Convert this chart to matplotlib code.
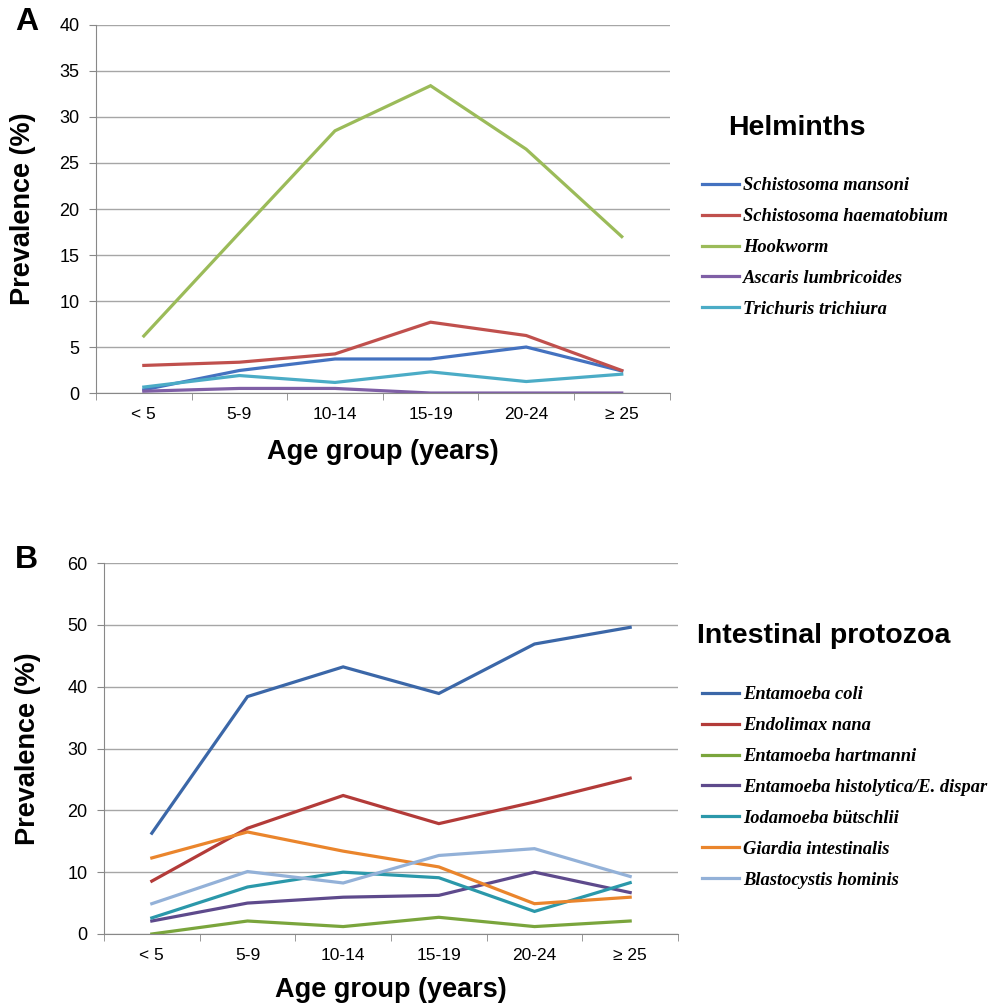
import numpy as np
import matplotlib
matplotlib.use("Agg")
import matplotlib.pyplot as plt
from matplotlib.ticker import FixedLocator

AGE_GROUPS = ["< 5", "5-9", "10-14", "15-19", "20-24", "\u2265 25"]

# Panel A: helminths (%)
HELM_NAMES = ["Schistosoma mansoni", "Schistosoma haematobium", "Hookworm",
              "Ascaris lumbricoides", "Trichuris trichiura"]
s_mansoni = [0.35, 2.45, 3.7, 3.7, 5.0, 2.4]
s_haematobium = [3.0, 3.35, 4.25, 7.7, 6.25, 2.45]
hookworm = [6.2, 17.4, 28.5, 33.4, 26.5, 17.0]
ascaris = [0.2, 0.5, 0.5, 0.0, 0.0, 0.0]
trichuris = [0.65, 1.9, 1.15, 2.3, 1.25, 2.05]
HELM_COLORS = ["#4472C0", "#C0504D", "#9BBB59", "#7F5FA6", "#4BACC6"]

# Panel B: intestinal protozoa (%)
PROTO_NAMES = ["Entamoeba coli", "Endolimax nana", "Entamoeba hartmanni",
               "Entamoeba histolytica/E. dispar", "Iodamoeba b\u00fctschlii",
               "Giardia intestinalis", "Blastocystis hominis"]
e_coli = [16.3, 38.4, 43.2, 38.9, 46.9, 49.6]
e_nana = [8.55, 17.1, 22.4, 17.85, 21.35, 25.2]
e_hartmanni = [0.0, 2.1, 1.2, 2.7, 1.2, 2.1]
e_histolytica = [2.1, 5.0, 5.95, 6.25, 10.0, 6.7]
i_butschlii = [2.6, 7.6, 10.0, 9.1, 3.65, 8.3]
giardia = [12.3, 16.5, 13.4, 10.85, 4.9, 5.95]
blastocystis = [4.9, 10.1, 8.25, 12.7, 13.8, 9.3]
PROTO_COLORS = ["#3B67A8", "#B33B39", "#7AA53C", "#5E4A8C", "#2B98AA", "#EA852C", "#93B1D8"]

SANS = "Liberation Sans"
SERIF = "Liberation Serif"


def style_axes(ax, ymax, ystep, ylab_x, xlab_y):
    x = np.arange(len(AGE_GROUPS))
    ax.set_xlim(-0.5, len(AGE_GROUPS) - 0.5)
    ax.set_ylim(0, ymax)
    ax.set_xticks(x)
    ax.set_xticklabels(AGE_GROUPS, fontsize=12.5, family=SANS)
    ax.xaxis.set_minor_locator(FixedLocator(np.arange(-0.5, len(AGE_GROUPS), 1.0)))
    ax.tick_params(axis="x", which="major", length=0, pad=10)
    ax.tick_params(axis="x", which="minor", length=5, color="#888888")
    ax.set_yticks(np.arange(0, ymax + 0.1, ystep))
    ax.tick_params(axis="y", length=5, color="#888888", pad=7, labelsize=13)
    for lab in ax.get_yticklabels():
        lab.set_family(SANS)
    ax.grid(axis="y", color="#A6A6A6", linewidth=1)
    ax.set_axisbelow(True)
    for side in ("top", "right"):
        ax.spines[side].set_visible(False)
    for side in ("left", "bottom"):
        ax.spines[side].set_color("#888888")
    ax.set_ylabel("Prevalence (%)", fontsize=19.5, fontweight="bold", family=SANS)
    ax.set_xlabel("Age group (years)", fontsize=19.5, fontweight="bold", family=SANS)
    ax.yaxis.set_label_coords(ylab_x, 0.5)
    ax.xaxis.set_label_coords(0.5, xlab_y)


fig = plt.figure(figsize=(9.94, 10.07), dpi=100)
axA = fig.add_axes([0.0966, 0.6097, 0.577, 0.3655])
axB = fig.add_axes([0.1046, 0.0725, 0.5775, 0.3684])

x = np.arange(len(AGE_GROUPS))
helm = [s_mansoni, s_haematobium, hookworm, ascaris, trichuris]
for name, vals, col in zip(HELM_NAMES, helm, HELM_COLORS):
    axA.plot(x, vals, color=col, linewidth=2.3, label=name, solid_joinstyle="miter")
style_axes(axA, 40, 5, -0.104, -0.125)

proto = [e_coli, e_nana, e_hartmanni, e_histolytica, i_butschlii, giardia, blastocystis]
for name, vals, col in zip(PROTO_NAMES, proto, PROTO_COLORS):
    axB.plot(x, vals, color=col, linewidth=2.3, label=name, solid_joinstyle="miter")
style_axes(axB, 60, 10, -0.109, -0.115)

leg_font = {"family": SERIF, "style": "italic", "weight": "bold", "size": 13.3}
axA.legend(loc="upper left", bbox_to_anchor=(695 / 994, 1 - 170 / 1007),
           bbox_transform=fig.transFigure, frameon=False, prop=leg_font,
           handlelength=2.0, handletextpad=0.2, labelspacing=0.75, borderaxespad=0)
axB.legend(loc="upper left", bbox_to_anchor=(695 / 994, 1 - 679 / 1007),
           bbox_transform=fig.transFigure, frameon=False, prop=leg_font,
           handlelength=2.0, handletextpad=0.2, labelspacing=0.75, borderaxespad=0)

fig.text(728 / 994, 1 - 128 / 1007, "Helminths", fontsize=20.5, fontweight="bold",
         family=SANS, va="center", ha="left")
fig.text(697 / 994, 1 - 636 / 1007, "Intestinal protozoa", fontsize=20.5, fontweight="bold",
         family=SANS, va="center", ha="left")
fig.text(15 / 994, 1 - 22 / 1007, "A", fontsize=23, fontweight="bold", family=SANS, va="center")
fig.text(15 / 994, 1 - 560 / 1007, "B", fontsize=23, fontweight="bold", family=SANS, va="center")

fig.savefig("out.png", dpi=100)
plt.close(fig)
